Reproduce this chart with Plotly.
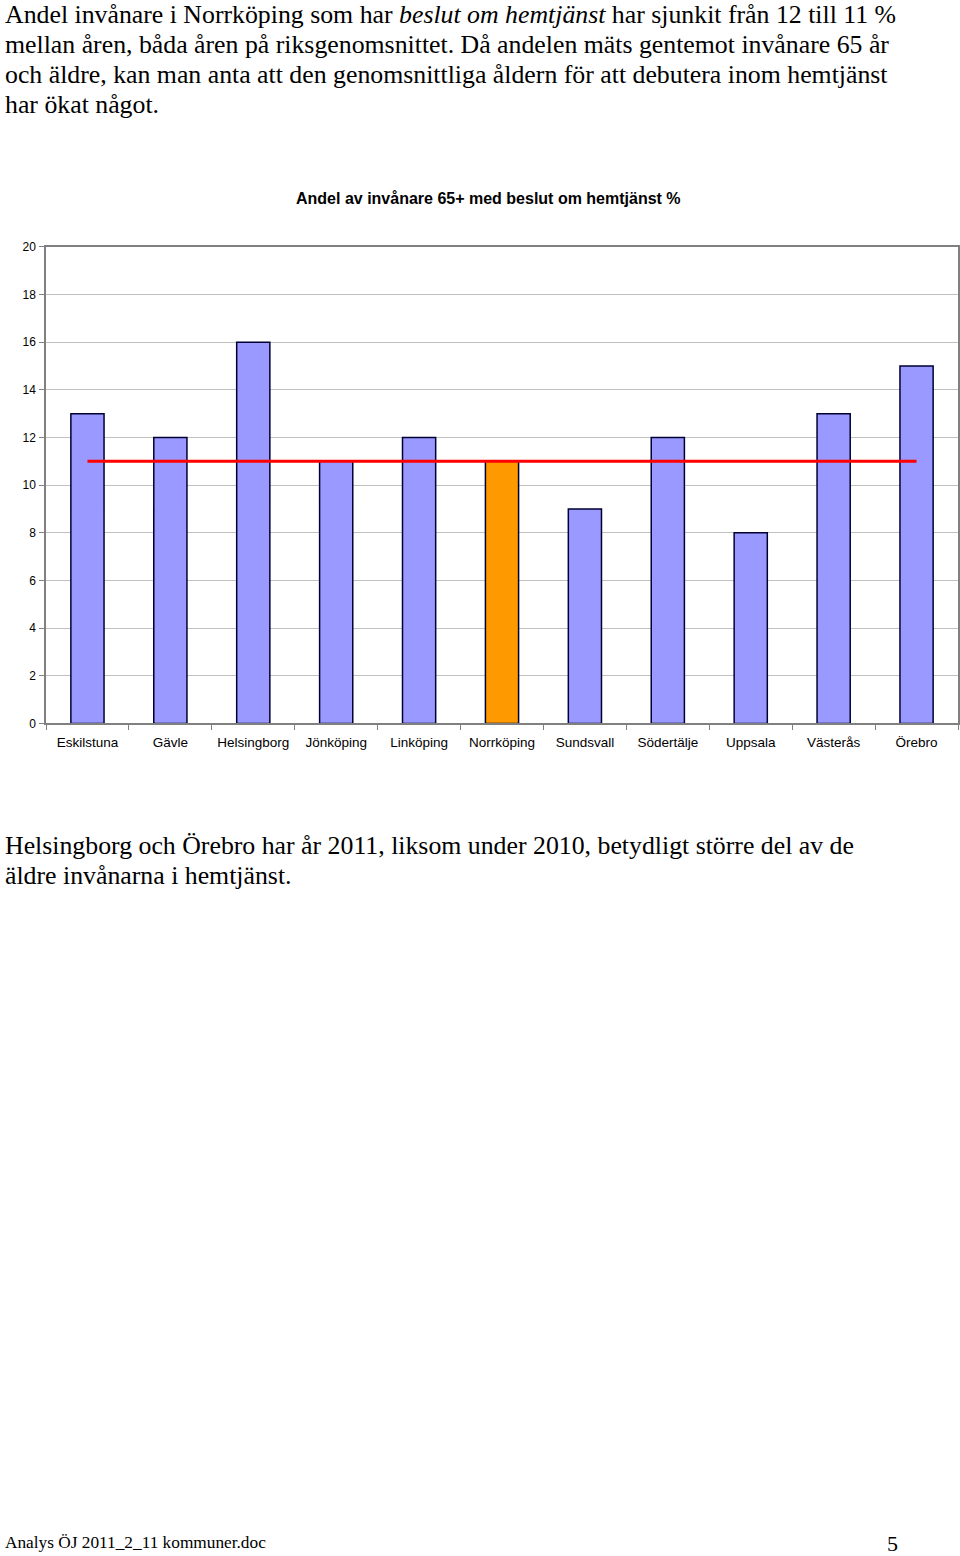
import plotly.graph_objects as go

categories = ["Eskilstuna", "Gävle", "Helsingborg", "Jönköping", "Linköping",
              "Norrköping", "Sundsvall", "Södertälje", "Uppsala", "Västerås", "Örebro"]
values = [13, 12, 16, 11, 12, 11, 9, 12, 8, 13, 15]
national_avg = [11] * len(categories)
highlight = "Norrköping"
y_ticks = [0, 2, 4, 6, 8, 10, 12, 14, 16, 18, 20]

W, H = 960, 1556
colors = ["#ff9900" if c == highlight else "#9999ff" for c in categories]

fig = go.Figure()
fig.add_trace(go.Bar(x=categories, y=values, width=0.4,
                     marker=dict(color=colors, line=dict(color="#000033", width=1.5)),
                     hoverinfo="x+y"))
fig.add_trace(go.Scatter(x=categories, y=national_avg, mode="lines",
                         line=dict(color="#ff0000", width=3), hoverinfo="y"))

def py(pix):
    return min(1.0, max(0.0, 1 - pix / H))

def px(pix):
    return min(1.0, max(0.0, pix / W))

ann = []
serif = "Liberation Serif, Times New Roman, serif"
para1 = [
    "Andel invånare i Norrköping som har <i>beslut om hemtjänst</i> har sjunkit från 12 till 11 %",
    "mellan åren, båda åren på riksgenomsnittet. Då andelen mäts gentemot invånare 65 år",
    "och äldre, kan man anta att den genomsnittliga åldern för att debutera inom hemtjänst",
    "har ökat något.",
]
for i, t in enumerate(para1):
    ann.append(dict(text=t, x=px(3), y=py(15 + 30 * i), xref="paper", yref="paper",
                    xanchor="left", yanchor="middle", showarrow=False, yshift=7,
                    font=dict(family=serif, size=25.8, color="#000")))
para2 = [
    "Helsingborg och Örebro har år 2011, liksom under 2010, betydligt större del av de",
    "äldre invånarna i hemtjänst.",
]
for i, t in enumerate(para2):
    ann.append(dict(text=t, x=px(3), y=py(846 + 30 * i), xref="paper", yref="paper",
                    xanchor="left", yanchor="middle", showarrow=False,
                    font=dict(family=serif, size=25.8, color="#000")))
ann.append(dict(text="<b>Andel av invånare 65+ med beslut om hemtjänst %</b>",
                x=px(488), y=py(198), xref="paper", yref="paper",
                xanchor="center", yanchor="middle", showarrow=False, yshift=5,
                font=dict(family="Liberation Sans, Arial, sans-serif", size=16, color="#000")))
ann.append(dict(text="Analys ÖJ 2011_2_11 kommuner.doc", x=px(3), y=py(1540),
                xref="paper", yref="paper", xanchor="left", yanchor="middle",
                showarrow=False, yshift=-9,
                font=dict(family=serif, size=17.3, color="#000")))
ann.append(dict(text="5", x=px(892), y=py(1543), xref="paper", yref="paper",
                xanchor="center", yanchor="middle", showarrow=False, yshift=-7,
                font=dict(family=serif, size=22, color="#000")))

fig.update_layout(
    width=W, height=H, margin=dict(l=0, r=0, t=0, b=0),
    paper_bgcolor="white", plot_bgcolor="white", showlegend=False,
    font=dict(family="Liberation Sans, Arial, sans-serif", color="#000"),
    annotations=ann,
    xaxis=dict(domain=[px(46), px(958)], type="category", tickson="boundaries",
               ticks="outside", ticklen=5, tickcolor="#808080",
               showline=True, linecolor="#808080", linewidth=1.5, mirror=True,
               showgrid=False, tickfont=dict(size=13.5), ticklabelstandoff=6,
               fixedrange=True),
    yaxis=dict(domain=[py(723), py(242)], range=[0, 20], tickvals=y_ticks,
               ticks="outside", ticklen=5, tickcolor="#808080",
               showline=True, linecolor="#808080", linewidth=1.5, mirror=True,
               showgrid=True, gridcolor="#c0c0c0", gridwidth=1, zeroline=False,
               tickfont=dict(size=12), ticklabelstandoff=1),
)
fig.write_html("out.html", config={"displayModeBar": False},
               post_script="document.body.style.margin='0';document.body.style.overflow='hidden';")
